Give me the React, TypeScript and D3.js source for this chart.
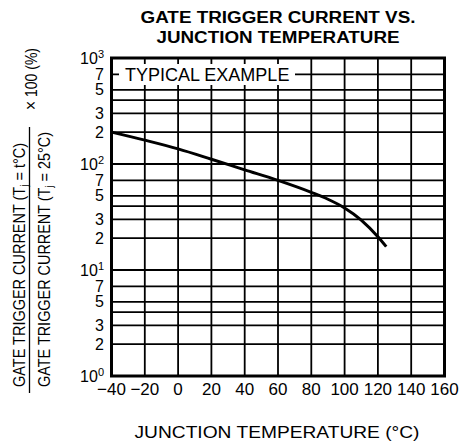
import React, { useEffect, useRef } from 'react';
import * as d3 from 'd3';

// curve: junction temp (°C) -> ratio (%)
const temps = [-40, -20, 0, 20, 40, 60, 80, 90, 100, 110, 120, 125];
const ratios = [200, 168, 139, 111, 88, 70, 54, 46.5, 38.5, 29.6, 20.6, 16.6];

const xTicks = [-40, -20, 0, 20, 40, 60, 80, 100, 120, 140, 160];
const decades = [1, 10, 100, 1000];
const minorSteps = [2, 3, 4, 5, 7];
const labelledSteps = [2, 3, 5, 7];

const FONT = '"Liberation Sans", Arial, sans-serif';

const App = () => {
    const chartRef = useRef<SVGSVGElement | null>(null);

    useEffect(() => {
        const svg = d3.select(chartRef.current);
        svg.selectAll('*').remove();

        const x = d3.scaleLinear().domain([-40, 160]).range([111.5, 444.5]);
        const y = d3.scaleLog().domain([1, 1000]).range([376, 58]);

        // title
        const title = svg.append('g')
            .attr('font-family', FONT)
            .attr('font-weight', 'bold')
            .attr('font-size', 16)
            .attr('text-anchor', 'middle');
        title.append('text').attr('x', 278).attr('y', 23)
            .attr('textLength', 275).attr('lengthAdjust', 'spacingAndGlyphs')
            .text('GATE TRIGGER CURRENT VS.');
        title.append('text').attr('x', 278).attr('y', 43)
            .attr('textLength', 243).attr('lengthAdjust', 'spacingAndGlyphs')
            .text('JUNCTION TEMPERATURE');

        // horizontal grid lines
        const hLines: number[] = [];
        decades.slice(0, 3).forEach((d) => {
            minorSteps.forEach((s) => hLines.push(d * s));
            if (d > 1) hLines.push(d);
        });
        hLines.push(100);

        const grid = svg.append('g').attr('stroke', '#000').attr('stroke-width', 1.8);
        grid.selectAll('line.h')
            .data(hLines)
            .enter()
            .append('line')
            .attr('x1', x(-40)).attr('x2', x(160))
            .attr('y1', (d) => y(d)).attr('y2', (d) => y(d));
        grid.selectAll('line.v')
            .data(xTicks.slice(1, -1))
            .enter()
            .append('line')
            .attr('x1', (d) => x(d)).attr('x2', (d) => x(d))
            .attr('y1', y(1000)).attr('y2', y(1));

        // "TYPICAL EXAMPLE" label knocks out the grid
        svg.append('rect')
            .attr('x', 119).attr('y', 64)
            .attr('width', 176).attr('height', 21)
            .attr('fill', '#fff');
        svg.append('text')
            .attr('x', 125).attr('y', y(700) + 6.5)
            .attr('font-family', FONT).attr('font-size', 18)
            .text('TYPICAL EXAMPLE');

        // frame
        svg.append('rect')
            .attr('x', x(-40)).attr('y', y(1000))
            .attr('width', x(160) - x(-40)).attr('height', y(1) - y(1000))
            .attr('fill', 'none').attr('stroke', '#000').attr('stroke-width', 3);

        // curve
        const line = d3.line<number>()
            .x((d, i) => x(temps[i]))
            .y((d) => y(d))
            .curve(d3.curveMonotoneX);
        svg.append('path')
            .datum(ratios)
            .attr('d', line)
            .attr('fill', 'none')
            .attr('stroke', '#000')
            .attr('stroke-width', 3);

        // y tick labels
        const yl = svg.append('g')
            .attr('font-family', FONT).attr('font-size', 16)
            .attr('text-anchor', 'end');
        decades.forEach((d, i) => {
            const t = yl.append('text').attr('x', 104).attr('y', y(d) + 5.5);
            t.append('tspan').text('10');
            t.append('tspan').attr('font-size', 11).attr('dy', -6).text(String(i));
        });
        decades.slice(0, 3).forEach((d) => {
            labelledSteps.forEach((s) => {
                yl.append('text')
                    .attr('x', 104).attr('y', y(d * s) + 5.5)
                    .text(String(s));
            });
        });

        // x tick labels
        svg.append('g')
            .attr('font-family', FONT).attr('font-size', 17)
            .attr('text-anchor', 'middle')
            .selectAll('text')
            .data(xTicks)
            .enter()
            .append('text')
            .attr('x', (d) => x(d))
            .attr('y', 395)
            .text((d) => (d < 0 ? '\u2212' + Math.abs(d) : String(d)));

        // x axis title
        svg.append('text')
            .attr('x', 277).attr('y', 438)
            .attr('text-anchor', 'middle')
            .attr('font-family', FONT).attr('font-size', 16)
            .attr('textLength', 285).attr('lengthAdjust', 'spacingAndGlyphs')
            .text('JUNCTION TEMPERATURE  (°C)');

        // y axis title as a fraction
        const yt = svg.append('g').attr('font-family', FONT).attr('font-size', 16);
        const num = yt.append('text')
            .attr('transform', 'translate(25,387) rotate(-90)')
            .attr('textLength', 244).attr('lengthAdjust', 'spacingAndGlyphs');
        num.append('tspan').text('GATE TRIGGER CURRENT (T');
        num.append('tspan').attr('font-size', 11).attr('dy', 3).text('j');
        num.append('tspan').attr('dy', -3).text(' = t°C)');

        const den = yt.append('text')
            .attr('transform', 'translate(50,387) rotate(-90)')
            .attr('textLength', 255).attr('lengthAdjust', 'spacingAndGlyphs');
        den.append('tspan').text('GATE TRIGGER CURRENT (T');
        den.append('tspan').attr('font-size', 11).attr('dy', 3).text('j');
        den.append('tspan').attr('dy', -3).text(' = 25°C)');

        yt.append('line')
            .attr('x1', 29.5).attr('x2', 29.5)
            .attr('y1', 127).attr('y2', 393)
            .attr('stroke', '#000').attr('stroke-width', 1.3);

        const mult = yt.append('text')
            .attr('transform', 'translate(37,110) rotate(-90)')
            .attr('font-size', 17)
            .attr('textLength', 62).attr('lengthAdjust', 'spacingAndGlyphs');
        mult.append('tspan').attr('font-size', 19).text('×');
        mult.append('tspan').text(' 100 (%)');
    }, []);

    return (
        <svg
            ref={chartRef}
            width={461}
            height={447}
            style={{ position: 'absolute', left: 0, top: 0, background: '#fff' }}
        />
    );
};

export default App;
